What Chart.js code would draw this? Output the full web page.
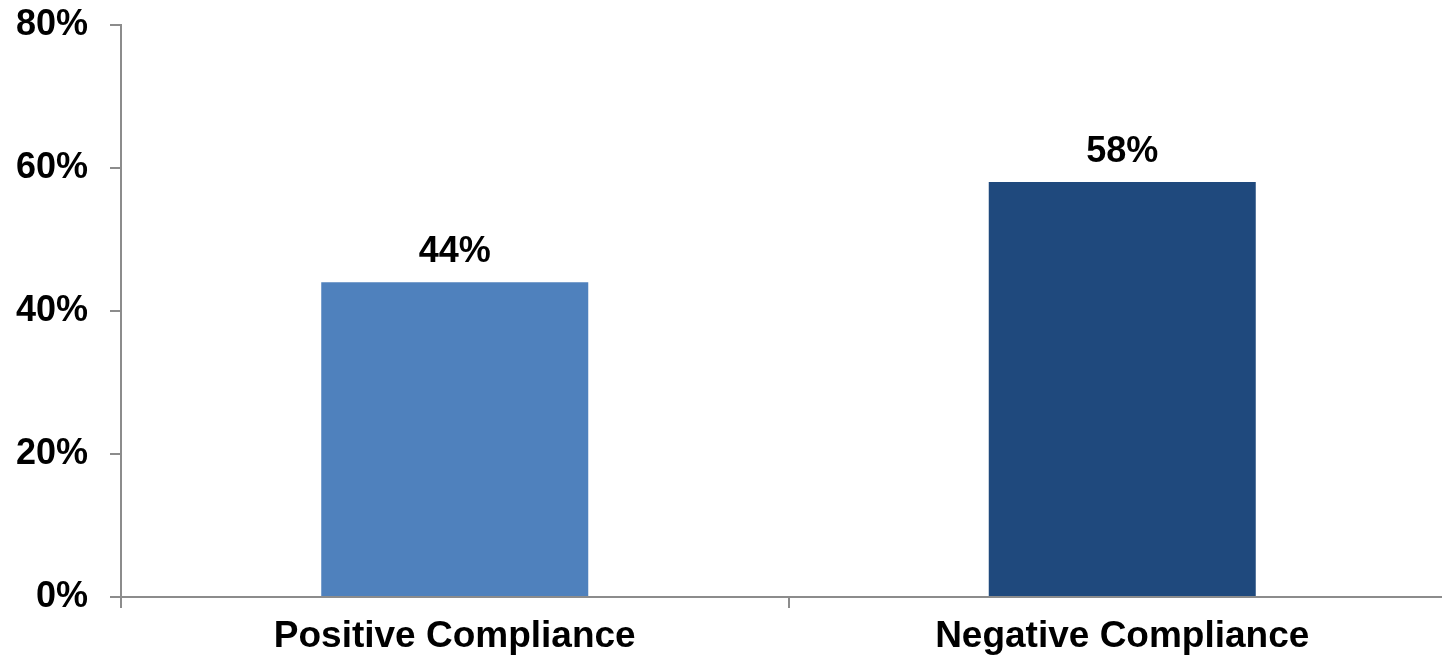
<!DOCTYPE html>
<html>
<head>
<meta charset="utf-8">
<script src="https://cdn.jsdelivr.net/npm/chart.js@4.4.1/dist/chart.umd.min.js"></script>
<style>
html,body{margin:0;padding:0;background:#fff;overflow:hidden;width:1442px;height:661px;}
canvas{display:block;margin-top:-19px;}
</style>
</head>
<body>
<canvas id="c" width="1456" height="680"></canvas>
<script>
const categories = ["Positive Compliance", "Negative Compliance"];
const values = [44, 58];
const barColors = ["#4F81BD", "#1F497D"];
const yTicks = [0, 20, 40, 60, 80];

const FONT = "'Liberation Sans', Arial, sans-serif";

const valueLabels = {
  id: 'valueLabels',
  afterDatasetsDraw(chart) {
    const ctx = chart.ctx;
    const meta = chart.getDatasetMeta(0);
    ctx.save();
    ctx.font = "bold 36px " + FONT;
    ctx.fillStyle = "#000";
    ctx.textAlign = "center";
    ctx.textBaseline = "alphabetic";
    meta.data.forEach((bar, i) => {
      ctx.fillText(values[i] + "%", bar.x, bar.y - 20);
    });
    ctx.restore();
  }
};

new Chart(document.getElementById('c'), {
  type: 'bar',
  data: {
    labels: categories,
    datasets: [{
      data: values,
      backgroundColor: barColors,
      borderWidth: 0,
      barPercentage: 0.4,
      categoryPercentage: 1.0
    }]
  },
  options: {
    responsive: false,
    animation: false,
    devicePixelRatio: 1,
    layout: { padding: { top: 7, right: 0, left: 0, bottom: 0 } },
    plugins: { legend: { display: false }, tooltip: { enabled: false } },
    scales: {
      x: {
        offset: true,
        grid: { offset: true, drawOnChartArea: false, drawTicks: true, tickLength: 11, color: "#8c8c8c", lineWidth: 2 },
        border: { display: true, color: "#8c8c8c", width: 2 },
        ticks: { color: "#000", font: { family: FONT, size: 37, weight: "bold" }, padding: 7, maxRotation: 0 },
        afterFit(scale) { scale.height = 64; }
      },
      y: {
        min: 0, max: 80,
        afterBuildTicks(scale) { scale.ticks = yTicks.map(v => ({ value: v })); },
        grid: { drawOnChartArea: false, drawTicks: true, tickLength: 11, color: "#8c8c8c", lineWidth: 2 },
        border: { display: true, color: "#8c8c8c", width: 2 },
        ticks: { color: "#000", font: { family: FONT, size: 36, weight: "bold" }, padding: 22, callback: v => v + "%" },
        afterFit(scale) { scale.width = 121; }
      }
    }
  },
  plugins: [valueLabels]
});
</script>
</body>
</html>
